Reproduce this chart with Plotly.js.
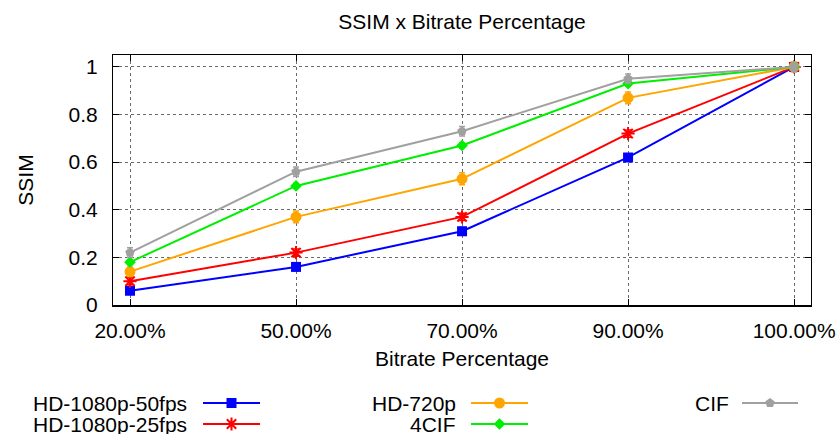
<!DOCTYPE html>
<html>
<head>
<meta charset="utf-8">
<script src="https://cdn.plot.ly/plotly-3.0.1.min.js"></script>
<style>html,body{margin:0;padding:0;background:#fff;}#chart{width:838px;height:434px;}</style>
</head>
<body>
<div id="chart"></div>
<script>
// ---- data ----
const categories = ["20.00%", "50.00%", "70.00%", "90.00%", "100.00%"];
const seriesNames = ["HD-1080p-50fps", "HD-1080p-25fps", "HD-720p", "4CIF", "CIF"];
const hd1080p50 = [0.06, 0.16, 0.31, 0.62, 1.00];
const hd1080p25 = [0.10, 0.22, 0.37, 0.72, 1.00];
const hd720p    = [0.14, 0.37, 0.53, 0.87, 1.00];
const cif4      = [0.18, 0.50, 0.67, 0.93, 1.00];
const cif       = [0.22, 0.56, 0.73, 0.95, 1.00];
const err1080p50 = [0.015, 0.015, 0.015, 0.015, 0.015];
const err1080p25 = [0.015, 0.015, 0.015, 0.015, 0.015];
const err720p    = [0.02, 0.025, 0.025, 0.025, 0.02];
const err4cif    = [0.01, 0.01, 0.01, 0.01, 0.01];
const errcif     = [0.02, 0.02, 0.02, 0.02, 0.02];
const yTicks = [0, 0.2, 0.4, 0.6, 0.8, 1];

// ---- styles ----
const FONT = "Liberation Sans, Arial, Helvetica, sans-serif";
const styles = [
  {color: "#0000ff", symbol: "square", size: 10, lw: 0},
  {color: "#ff0000", symbol: "asterisk-open", size: 11, lw: 2},
  {color: "#ffa500", symbol: "circle", size: 11, lw: 0},
  {color: "#00ee00", symbol: "diamond", size: 9, lw: 0},
  {color: "#a0a0a0", symbol: "pentagon", size: 10, lw: 0}
];
const values = [hd1080p50, hd1080p25, hd720p, cif4, cif];
const errors = [err1080p50, err1080p25, err720p, err4cif, errcif];

const W = 838, H = 434;
const plotL = 113.4, plotR = 810.7, plotT = 55, plotB = 305;

const traces = [];
values.forEach((vals, i) => {
  const s = styles[i];
  traces.push({
    type: "scatter", mode: "lines+markers", name: seriesNames[i],
    x: categories, y: vals, xaxis: "x", yaxis: "y",
    line: {color: s.color, width: 2},
    marker: {color: s.color, symbol: s.symbol, size: s.size, line: {color: s.color, width: s.lw}},
    error_y: {type: "data", array: errors[i], visible: true, color: s.color, thickness: 1.5, width: 3},
    showlegend: false, hoverinfo: "x+y"
  });
});

// custom gnuplot-style legend (text right, sample to the right)
const legCols = [
  {textRight: 189, lineL: 203, lineR: 260},
  {textRight: 458, lineL: 471, lineR: 528},
  {textRight: 731, lineL: 742, lineR: 798}
];
const legRows = [403, 424];
const legendPos = [[0,0],[0,1],[1,0],[1,1],[2,0]];
const annotations = [];
legendPos.forEach((p, i) => {
  const c = legCols[p[0]], ry = legRows[p[1]], s = styles[i];
  traces.push({
    type: "scatter", mode: "lines", x: [c.lineL, c.lineR], y: [ry, ry],
    xaxis: "x2", yaxis: "y2", line: {color: s.color, width: 2},
    showlegend: false, hoverinfo: "skip"
  });
  traces.push({
    type: "scatter", mode: "markers", x: [(c.lineL + c.lineR) / 2], y: [ry],
    xaxis: "x2", yaxis: "y2",
    marker: {color: s.color, symbol: s.symbol, size: s.size, line: {color: s.color, width: s.lw}},
    showlegend: false, hoverinfo: "skip"
  });
  annotations.push({
    xref: "x2", yref: "y2", x: c.textRight, y: ry, xanchor: "right", yanchor: "middle",
    text: seriesNames[i], showarrow: false, font: {family: FONT, size: 21, color: "#000"}
  });
});

const layout = {
  width: W, height: H,
  margin: {l: 0, r: 0, t: 0, b: 0, autoexpand: false},
  paper_bgcolor: "#fff", plot_bgcolor: "rgba(0,0,0,0)",
  font: {family: FONT, size: 21, color: "#000"},
  title: {text: "SSIM x Bitrate Percentage", font: {family: FONT, size: 21, color: "#000"},
          xref: "paper", x: ((plotL + plotR) / 2) / W, xanchor: "center",
          yref: "container", y: 1 - 22 / H, yanchor: "middle"},
  xaxis: {
    domain: [plotL / W, plotR / W], anchor: "y",
    type: "category", categoryorder: "array", categoryarray: categories,
    range: [-0.1, 4.1],
    showline: true, mirror: "ticks", linecolor: "#000", linewidth: 1.5,
    ticks: "inside", ticklen: 6, tickcolor: "#000", tickwidth: 1,
    showgrid: true, gridcolor: "#6a6a6a", gridwidth: 1, griddash: "dot",
    zeroline: false, ticklabelstandoff: 6,
    tickfont: {family: FONT, size: 21, color: "#000"},
    title: {text: "Bitrate Percentage", font: {family: FONT, size: 21, color: "#000"}, standoff: 10}
  },
  yaxis: {
    domain: [(H - plotB) / H, (H - plotT) / H], anchor: "x",
    range: [0, 1.05], tickmode: "array", tickvals: yTicks,
    ticktext: yTicks.map(v => String(v)),
    showline: true, mirror: "ticks", linecolor: "#000", linewidth: 1.5,
    ticks: "inside", ticklen: 6, tickcolor: "#000", tickwidth: 1,
    showgrid: true, gridcolor: "#6a6a6a", gridwidth: 1, griddash: "dot",
    zeroline: false, ticklabelstandoff: 10,
    tickfont: {family: FONT, size: 21, color: "#000"},
    title: {text: "SSIM", font: {family: FONT, size: 21, color: "#000"}, standoff: 29}
  },
  xaxis2: {domain: [0, 1], anchor: "y2", range: [0, W], visible: false, fixedrange: true},
  yaxis2: {domain: [0, 1], anchor: "x2", range: [H, 0], visible: false, fixedrange: true},
  annotations: annotations,
  showlegend: false
};

Plotly.newPlot("chart", traces, layout, {displayModeBar: false, staticPlot: true});
</script>
</body>
</html>
